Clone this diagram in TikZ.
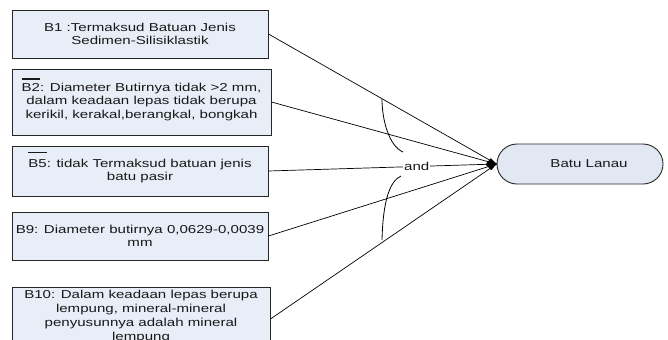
\documentclass[tikz,border=0pt]{standalone}
\usepackage{fontspec}
\setmainfont{Liberation Sans}[FakeStretch=1.31]
\usetikzlibrary{arrows.meta}
\definecolor{boxfill}{HTML}{E8EEF8}
\definecolor{goalfill}{HTML}{E1E8F4}
% overline marking a negated fact label, e.g. \negmark{12bp}{B2}
\newcommand\negmark[2]{\setbox0\hbox{#2}\rlap{\smash{\raisebox{#1}{\rule{\wd0}{1.2bp}}}}\box0}
\begin{document}
\begin{tikzpicture}[x=1bp,y=-1bp,
  txt/.style={font=\fontsize{11.5bp}{13.3bp}\selectfont, text=black!90},
  factbox/.style={txt, draw=black!85, line width=0.9bp, fill=boxfill, rectangle,
    inner sep=0pt, align=center, minimum width=256bp},
  goalbox/.style={txt, draw=black!85, line width=0.9bp, fill=goalfill,
    rounded corners=20bp, minimum width=166bp, minimum height=40bp, inner sep=0pt},
  link/.style={draw=black, line width=0.7bp},
  gate/.style={draw=black, line width=0.8bp}]
\clip (0,0) rectangle (668,339);
\fill[white] (0,0) rectangle (668,339);

% premise boxes
\node[factbox, minimum height=48bp] (b1) at (140,34)
  {B1 :Termaksud Batuan Jenis\\Sedimen-Silisiklastik};
\node[factbox, minimum width=259bp, minimum height=66bp] (b2) at (141.5,102)
  {\negmark{12bp}{B2}: Diameter Butirnya tidak >2 mm,\\dalam keadaan lepas tidak berupa\\kerikil, kerakal,berangkal, bongkah};
\node[factbox, minimum height=50bp] (b5) at (140,171)
  {\negmark{14.5bp}{B5}: tidak Termaksud batuan jenis\\batu pasir};
\node[factbox, minimum height=48bp] (b9) at (140,236)
  {B9: Diameter butirnya 0,0629-0,0039\\mm};
\node[factbox, minimum width=258bp, minimum height=60bp,
      font=\fontsize{11.5bp}{14bp}\selectfont] (b10) at (141,317)
  {B10: Dalam keadaan lepas berupa\\lempung, mineral-mineral\\penyusunnya adalah mineral\\lempung};

% conclusion
\node[goalbox] (goal) at (580,164) {\hspace*{18bp}Batu Lanau};

% rule connectors
\draw[link] (b1.east) -- (goal.west);
\draw[link] (b2.east) -- (goal.west);
\draw[link] (b9.east) -- (goal.west);
\draw[link] ([yshift=-2bp]b10.east) -- (goal.west);
\draw[link, -{Diamond[length=11bp,width=12bp]}] (b5.east) --
  node[pos=0.65, txt, fill=white, inner sep=1bp] (andlbl) {and} (goal.west);

% conjunction arcs
\draw[gate] (382,99) .. controls (382,120) and (389,146) .. (403,152);
\draw[gate] (401,176) .. controls (390,181) and (383,200) .. (382,240);
\end{tikzpicture}
\end{document}
